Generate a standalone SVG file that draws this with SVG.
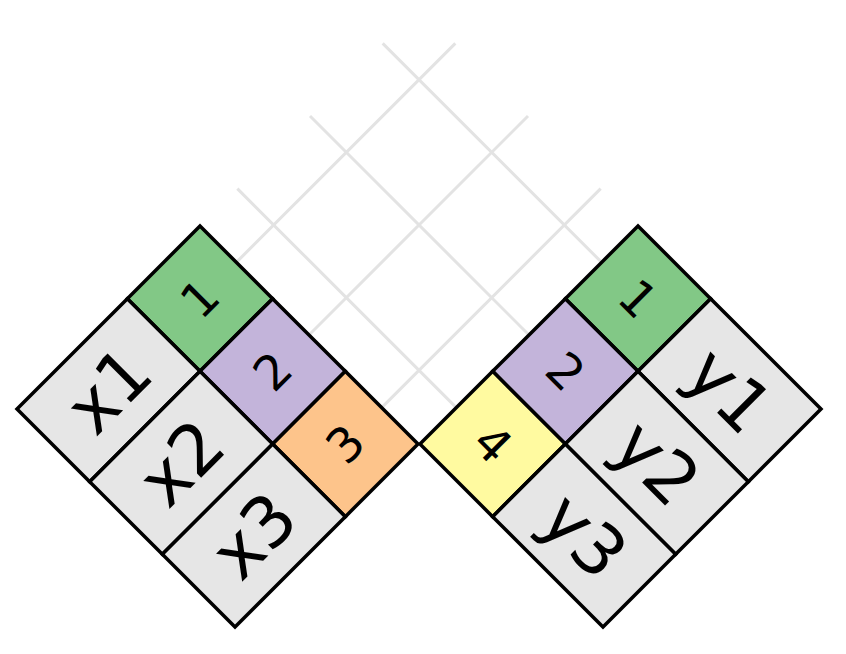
<svg xmlns="http://www.w3.org/2000/svg" width="846" height="654" viewBox="0 0 846 654">
<style>
.cell{stroke:#000;stroke-width:3.5;stroke-linejoin:miter}
.g{fill:#82c886}.p{fill:#c3b4da}.o{fill:#fdc48b}.y{fill:#fffaa0}.e{fill:#e6e6e6}
.grid line{stroke:#e3e3e3;stroke-width:3}
text{font-family:"DejaVu Sans","Liberation Sans",sans-serif;fill:#000;text-anchor:middle}
.d{font-size:48px}.l{font-size:70px}
</style>
<rect width="846" height="654" fill="#fff"/>
<g id="connectors" class="grid">
<line x1="382.67" y1="43.33" x2="601.67" y2="262.33"/>
<line x1="310" y1="116" x2="529" y2="335"/>
<line x1="237.33" y1="188.67" x2="456.33" y2="407.67"/>
<line x1="455.33" y1="43.33" x2="236.33" y2="262.33"/>
<line x1="528" y1="116" x2="309" y2="335"/>
<line x1="600.67" y1="188.67" x2="381.67" y2="407.67"/>
</g>
<g id="left-block" transform="translate(200,226) rotate(45)">
<g id="L1"><rect class="cell g" x="0" y="0" width="102.77" height="102.77"/></g>
<g id="L2"><rect class="cell p" x="102.77" y="0" width="102.77" height="102.77"/></g>
<g id="L3"><rect class="cell o" x="205.54" y="0" width="102.77" height="102.77"/></g>
<g id="x1"><rect class="cell e" x="0" y="102.77" width="102.77" height="156.03"/></g>
<g id="x2"><rect class="cell e" x="102.77" y="102.77" width="102.77" height="156.03"/></g>
<g id="x3"><rect class="cell e" x="205.54" y="102.77" width="102.77" height="156.03"/></g>
</g>
<g id="right-block" transform="translate(638,226) rotate(135)">
<g id="R1"><rect class="cell g" x="0" y="-102.77" width="102.77" height="102.77"/></g>
<g id="R2"><rect class="cell p" x="102.77" y="-102.77" width="102.77" height="102.77"/></g>
<g id="R4"><rect class="cell y" x="205.54" y="-102.77" width="102.77" height="102.77"/></g>
<g id="y1"><rect class="cell e" x="0" y="-258.8" width="102.77" height="156.03"/></g>
<g id="y2"><rect class="cell e" x="102.77" y="-258.8" width="102.77" height="156.03"/></g>
<g id="y3"><rect class="cell e" x="205.54" y="-258.8" width="102.77" height="156.03"/></g>
</g>
<g id="labels">
<text class="d" x="200" y="298.67" dy="0.35em" transform="rotate(-45 200 298.67)">1</text>
<text class="d" x="272.67" y="371.33" dy="0.35em" transform="rotate(-45 272.67 371.33)">2</text>
<text class="d" x="345.33" y="444" dy="0.35em" transform="rotate(-45 345.33 444)">3</text>
<text class="l" x="108.5" y="390.17" dy="0.35em" transform="rotate(-45 108.5 390.17)">x1</text>
<text class="l" x="181.17" y="462.83" dy="0.35em" transform="rotate(-45 181.17 462.83)">x2</text>
<text class="l" x="253.83" y="535.5" dy="0.35em" transform="rotate(-45 253.83 535.5)">x3</text>
<text class="d" x="638" y="298.67" dy="0.35em" transform="rotate(45 638 298.67)">1</text>
<text class="d" x="565.33" y="371.33" dy="0.35em" transform="rotate(45 565.33 371.33)">2</text>
<text class="d" x="492.67" y="444" dy="0.35em" transform="rotate(45 492.67 444)">4</text>
<text class="l" x="729.5" y="390.17" dy="0.35em" transform="rotate(45 729.5 390.17)">y1</text>
<text class="l" x="656.83" y="462.83" dy="0.35em" transform="rotate(45 656.83 462.83)">y2</text>
<text class="l" x="584.17" y="535.5" dy="0.35em" transform="rotate(45 584.17 535.5)">y3</text>
</g>
</svg>
